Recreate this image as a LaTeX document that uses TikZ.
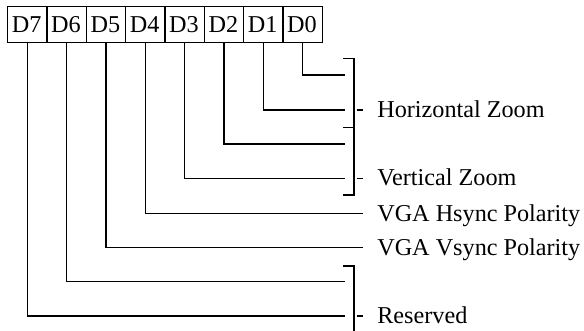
\documentclass[tikz,border=0pt]{standalone}
\usepackage{fontspec}
\setmainfont{Liberation Serif}
\begin{document}
\begin{tikzpicture}[x=1pt,y=-1pt,line width=1.2pt,
  bitbox/.style={draw,rectangle,minimum width=39.33pt,minimum height=35.7pt,inner sep=0pt,anchor=north west},
  bittext/.style={anchor=base,inner sep=0pt,font=\fontsize{24.2}{29}\selectfont},
  lbl/.style={anchor=base west,inner sep=0pt,font=\fontsize{24.2}{29}\selectfont}]
\useasboundingbox (0,0) rectangle (584,331);
% bit boxes
\foreach \i/\n in {0/7,1/6,2/5,3/4,4/3,5/2,6/1,7/0}{
  \node[bitbox] (d\n) at ({7+39.33*\i},6) {};
  \node[bittext] (t\n) at ({7+39.33*\i+19.67},32.3) {D\n};
}
% line ends
\coordinate (e0) at (345,75);
\coordinate (e1) at (345,110);
\coordinate (e2) at (345,144);
\coordinate (e3) at (345,178.3);
\coordinate (e4) at (363,213.3);
\coordinate (e5) at (363,247.3);
\coordinate (e6) at (345,281.7);
\coordinate (e7) at (345,316);
\foreach \n in {0,...,7}{
  \draw (d\n.south) |- (e\n);
}
% brackets
\draw (343,58.3) -- (354,58.3) -- (354,127.3) -- (343,127.3);
\draw (354,127.3) -- (354,195) -- (343,195);
\draw (343,266) -- (354,266) -- (354,335);
% dashes
\draw (356.5,110) -- (362.5,110);
\draw (356.5,178.3) -- (362.5,178.3);
\draw (356.5,316) -- (362.5,316);
% labels
\node[lbl] (lh) at (376.7,117.6) {Horizontal Zoom};
\node[lbl] (lv) at (376.7,185.9) {Vertical Zoom};
\node[lbl] (lhs) at (376.7,221.3) {VGA Hsync Polarity};
\node[lbl] (lvs) at (376.7,255.3) {VGA Vsync Polarity};
\node[lbl] (lr) at (376.7,323.8) {Reserved};
\end{tikzpicture}
\end{document}
